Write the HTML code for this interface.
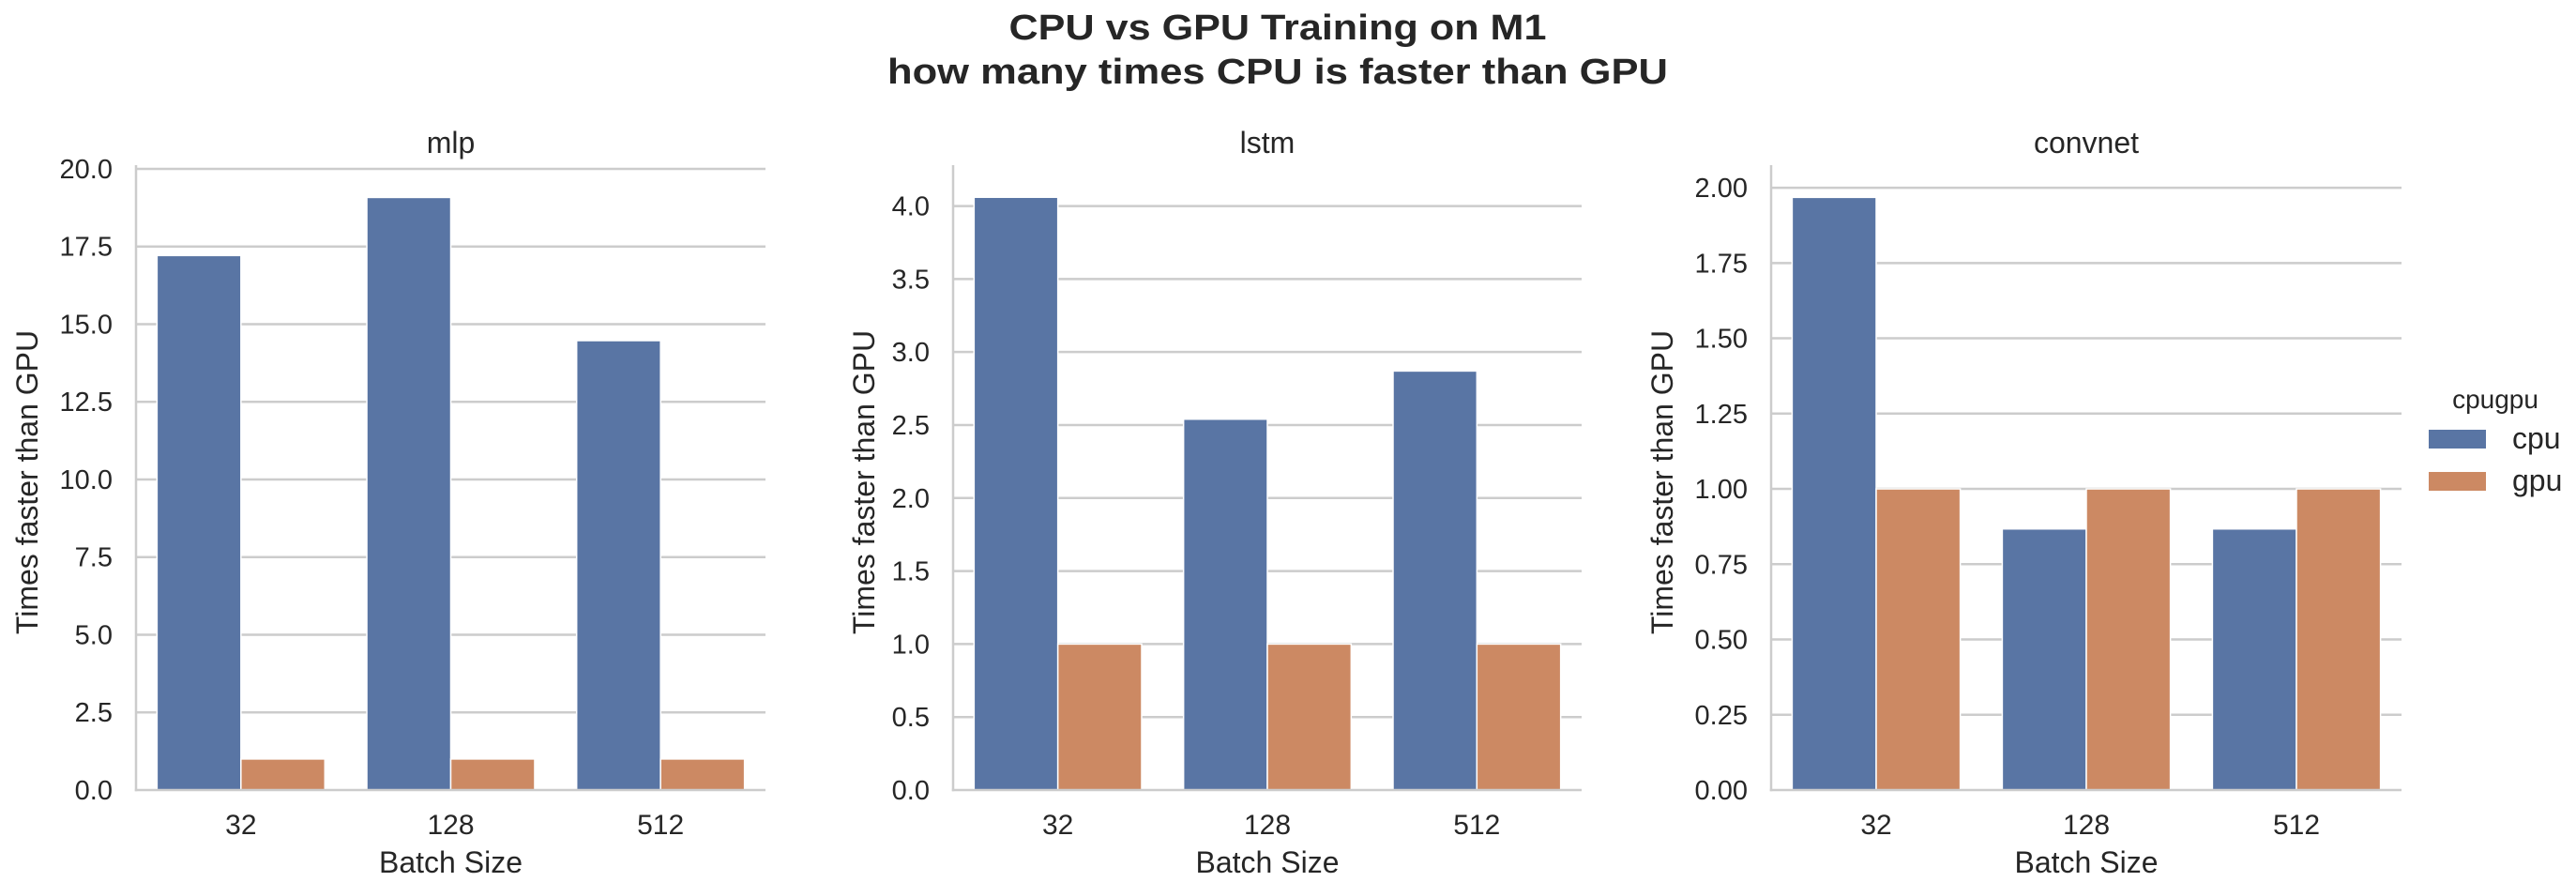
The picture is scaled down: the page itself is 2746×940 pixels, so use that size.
<!DOCTYPE html>
<html><head><meta charset="utf-8"><style>
html,body{margin:0;padding:0;background:#fff;}
svg{display:block;font-family:"Liberation Sans",Arial,sans-serif;}
</style></head><body>
<svg id="fig" width="2746" height="940" viewBox="0 0 2746 940" xmlns="http://www.w3.org/2000/svg">
<text x="1362" y="42" text-anchor="middle" font-size="38" font-weight="bold" fill="#262626" textLength="573" lengthAdjust="spacingAndGlyphs">CPU vs GPU Training on M1</text>
<text x="1362" y="89" text-anchor="middle" font-size="38" font-weight="bold" fill="#262626" textLength="832" lengthAdjust="spacingAndGlyphs">how many times CPU is faster than GPU</text>
<g>
<text x="2660" y="435" text-anchor="middle" font-size="28" fill="#262626">cpugpu</text>
<rect x="2589" y="458" width="61" height="20" fill="#5975a4"/>
<text x="2678" y="478" font-size="32" fill="#262626">cpu</text>
<rect x="2589" y="503" width="61" height="20" fill="#cc8963"/>
<text x="2678" y="523" font-size="32" fill="#262626">gpu</text>
</g>
</svg>
<script>
const categories = ["32","128","512"];
const panelNames = ["mlp","lstm","convnet"];
const cpuMlp = [17.21, 19.08, 14.47];
const gpuMlp = [1, 1, 1];
const cpuLstm = [4.06, 2.54, 2.87];
const gpuLstm = [1, 1, 1];
const cpuConv = [1.968, 0.867, 0.867];
const gpuConv = [1, 1, 1];
const ticksMlp = [0,2.5,5,7.5,10,12.5,15,17.5,20];
const ticksLstm = [0,0.5,1,1.5,2,2.5,3,3.5,4];
const ticksConv = [0,0.25,0.5,0.75,1,1.25,1.5,1.75,2];
const tickLabelsMlp = ["0.0","2.5","5.0","7.5","10.0","12.5","15.0","17.5","20.0"];
const tickLabelsLstm = ["0.0","0.5","1.0","1.5","2.0","2.5","3.0","3.5","4.0"];
const tickLabelsConv = ["0.00","0.25","0.50","0.75","1.00","1.25","1.50","1.75","2.00"];
const yMax = [20.12, 4.28, 2.075];

const NS="http://www.w3.org/2000/svg";
const svg=document.getElementById('fig');
function mk(tag,attrs,parent){const e=document.createElementNS(NS,tag);for(const k in attrs)e.setAttribute(k,attrs[k]);(parent||svg).appendChild(e);return e;}
const panels=[
 {x0:145,x1:816,cpu:cpuMlp,gpu:gpuMlp,ticks:ticksMlp,labels:tickLabelsMlp,ylx:40},
 {x0:1016,x1:1686,cpu:cpuLstm,gpu:gpuLstm,ticks:ticksLstm,labels:tickLabelsLstm,ylx:932},
 {x0:1888,x1:2560,cpu:cpuConv,gpu:gpuConv,ticks:ticksConv,labels:tickLabelsConv,ylx:1783}
];
const yTop=176,yBot=842;
panels.forEach((p,pi)=>{
 const g=mk('g',{});
 
 
 const ys=v=>yBot-(v/yMax[pi])*(yBot-yTop);
 const band=(p.x1-p.x0)/categories.length;
 const bw=band*0.4;
 p.ticks.forEach((t,i)=>{
  const y=ys(t);
  if(t>0){const gl=mk('line',{x1:p.x0,x2:p.x1,y1:y,y2:y,stroke:'#cccccc','stroke-width':2.5},g);
  
  }
  const tl=mk('text',{x:p.x0-25,y:y+10,'text-anchor':'end','font-size':29,fill:'#262626'},g);
  tl.textContent=p.labels[i];
  
  
 });
 categories.forEach((c,i)=>{
  const cx=p.x0+band*(i+0.5);
  const b1=mk('rect',{x:cx-bw,y:ys(p.cpu[i]),width:bw,height:yBot-ys(p.cpu[i]),fill:'#5975a4',stroke:'#fff','stroke-width':1.5},g);
  
  
  const b2=mk('rect',{x:cx,y:ys(p.gpu[i]),width:bw,height:yBot-ys(p.gpu[i]),fill:'#cc8963',stroke:'#fff','stroke-width':1.5},g);
  
  
  const xl=mk('text',{x:cx,y:889,'text-anchor':'middle','font-size':30,fill:'#262626'},g);
  xl.textContent=c;
  
  
 });
 const sl=mk('line',{x1:p.x0,x2:p.x0,y1:yTop,y2:yBot+1.25,stroke:'#cccccc','stroke-width':2.5},g);
 
 
 const sb=mk('line',{x1:p.x0-1.25,x2:p.x1,y1:yBot,y2:yBot,stroke:'#cccccc','stroke-width':2.5},g);
 
 
 const tt=mk('text',{x:(p.x0+p.x1)/2,y:163,'text-anchor':'middle','font-size':32,fill:'#262626'},g);
 tt.textContent=panelNames[pi];
 
 
 const xt=mk('text',{x:(p.x0+p.x1)/2,y:930,'text-anchor':'middle','font-size':32,fill:'#262626'},g);
 xt.textContent='Batch Size';
 
 
 const yt=mk('text',{x:0,y:0,'text-anchor':'middle','font-size':32,fill:'#262626',transform:'translate('+p.ylx+',514) rotate(-90)'},g);
 yt.textContent='Times faster than GPU';
 
 
});
</script>
</body></html>
